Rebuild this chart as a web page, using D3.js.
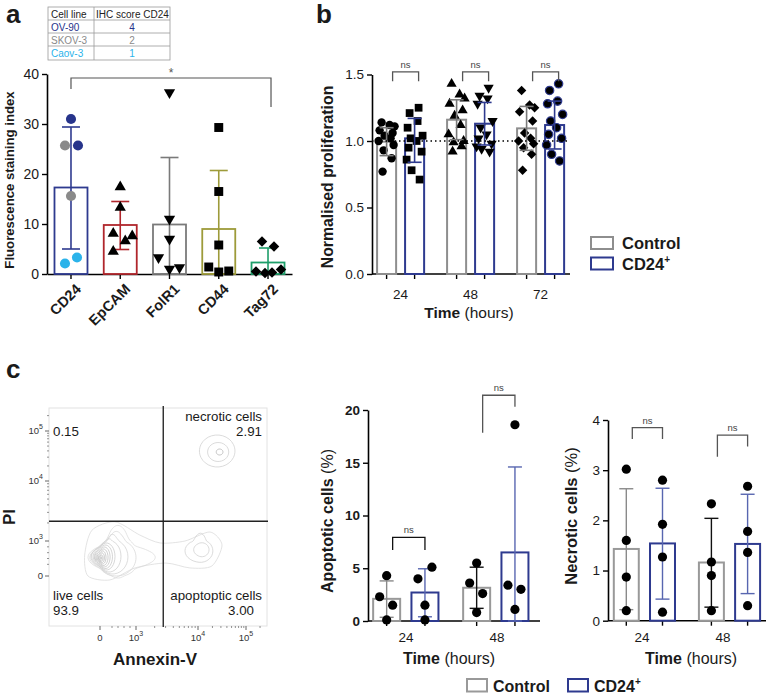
<!DOCTYPE html>
<html><head><meta charset="utf-8">
<script src="https://cdn.jsdelivr.net/npm/d3@7"></script>
<style>body{margin:0;background:#fff}svg{display:block}</style>
</head><body>
<svg id="fig" width="766" height="694"></svg>
<script>
// ================= DATA =================
// Panel a
const tableRows = [["Cell line","IHC score CD24"],["OV-90","4"],["SKOV-3","2"],["Caov-3","1"]];
const aCategories = ["CD24","EpCAM","FolR1","CD44","Tag72"];
const aMeans = [17.3, 9.8, 9.9, 9.0, 2.3];
const aErrUpper = [29.4, 14.5, 23.3, 20.7, 5.2];
const aErrLower = [5.0, 4.9, 0, 0, 0];
const aPoints = [
  [31.0, 25.7, 25.7, 15.6, 2.1, 3.3],
  [17.4, 13.3, 8.1, 7.6, 6.6, 4.5],
  [36.3, 11.0, 7.0, 3.3, 1.0, 1.3],
  [29.3, 16.5, 5.8, 1.4, 0.4, 0.6],
  [6.5, 5.5, 0.5, 0.2, 0.3, 0.9]
];
const aCD24CellLines = ["OV-90","OV-90","SKOV-3","SKOV-3","Caov-3","Caov-3"];
const aTicks = [0, 10, 20, 30, 40];
const aSig = {from: "CD24", to: "Tag72", top: 39.2, leftEnd: 37.0, rightEnd: 33.4, label: "*"};

// Panel b
const bTimes = ["24", "48", "72"];
const bGroups = ["Control", "CD24+"];
const bCtrlMean = [0.995, 1.16, 1.095];
const bCtrlUpper = [1.10, 1.31, 1.26];
const bCtrlLower = [0.89, 1.01, 0.93];
const bCdMean = [1.02, 1.13, 1.12];
const bCdUpper = [1.17, 1.29, 1.30];
const bCdLower = [0.84, 0.97, 0.94];
const bCtrlPoints = [
  [1.14, 1.12, 1.11, 1.08, 1.06, 1.04, 1.02, 1.0, 0.97, 0.93, 0.87, 0.77],
  [1.43, 1.35, 1.32, 1.28, 1.23, 1.19, 1.12, 1.05, 1.0, 0.99, 0.96, 0.92],
  [1.38, 1.27, 1.25, 1.22, 1.15, 1.06, 1.02, 1.0, 0.98, 0.95, 0.90, 0.78]
];
const bCdPoints = [
  [1.25, 1.21, 1.15, 1.10, 1.04, 1.02, 1.0, 0.95, 0.92, 0.86, 0.78, 0.71],
  [1.40, 1.34, 1.32, 1.28, 1.15, 1.10, 1.05, 1.02, 0.98, 0.96, 0.94, 0.92],
  [1.43, 1.38, 1.30, 1.28, 1.20, 1.15, 1.10, 1.05, 1.02, 0.97, 0.90, 0.85]
];
const bTicks = [0, 0.5, 1.0, 1.5];
const bSig = {top: 1.52, end: 1.45, label: "ns"};

// Panel c – flow cytometry (values in display decades; 0 = zero)
const flowQuadrants = {x: 3.44, y: 3.33};
const flowQuadLabels = [
  {name: "", value: "0.15", q: "tl"},
  {name: "necrotic cells", value: "2.91", q: "tr"},
  {name: "live cells", value: "93.9", q: "bl"},
  {name: "apoptoptic cells", value: "3.00", q: "br"}
];
const flowTicks = [{v: 0, base: "0", exp: ""}, {v: 3, base: "10", exp: "3"}, {v: 4, base: "10", exp: "4"}, {v: 5, base: "10", exp: "5"}];
const liveRings = [
  [0.08, 1.54, 0.06, 0.12], [0.11, 1.54, 0.14, 0.26], [0.16, 1.57, 0.21, 0.41], [0.21, 1.59, 0.29, 0.56],
  [0.28, 1.61, 0.39, 0.71], [0.35, 1.63, 0.49, 0.86], [0.44, 1.65, 0.60, 1.01],
  [0.53, 1.67, 0.72, 1.16], [0.76, 1.69, 0.99, 1.35], [1.04, 1.64, 1.29, 1.47],
  [1.36, 1.58, 1.64, 1.58], [1.49, 1.60, 1.82, 1.66]
];
const bridgeContour = [[-0.22,3.18],[1.25,3.32],[3.06,3.10],[3.39,2.83],[3.79,3.0],[4.25,3.15],[4.5,2.66],[4.29,0.86],[3.87,0.69],[3.48,1.11],[2.92,0.69],[0.83,-0.11],[-0.33,0.0],[-0.42,1.8]];
const apoRings = [[4.05, 2.15, 0.26, 0.98], [4.08, 2.25, 0.15, 0.6]];
const necRings = [[4.40, 4.60, 0.37, 0.32], [4.42, 4.58, 0.22, 0.19], [4.45, 4.58, 0.07, 0.06]];

// Panel c – apoptotic / necrotic bars
const cTimes = ["24", "48"];
const apoCtrlMean = [2.1, 3.15], apoCtrlUpper = [3.8, 5.1], apoCtrlLower = [0.35, 1.2];
const apoCdMean = [2.7, 6.5], apoCdUpper = [4.95, 14.6], apoCdLower = [0.4, 0];
const apoCtrlPoints = [[4.3, 2.3, 1.5, 0.1], [5.5, 3.6, 2.6, 0.8]];
const apoCdPoints = [[5.1, 4.0, 1.5, 0.1], [18.6, 3.4, 3.0, 1.1]];
const apoTicks = [0, 5, 10, 15, 20];
const apoSig = [{top: 7.93, leftEnd: 6.73, rightEnd: 6.73}, {top: 21.4, leftEnd: 17.85, rightEnd: 20.3}];

const necCtrlMean = [1.43, 1.16], necCtrlUpper = [2.63, 2.04], necCtrlLower = [0.22, 0.27];
const necCdMean = [1.54, 1.53], necCdUpper = [2.64, 2.52], necCdLower = [0.43, 0.54];
const necCtrlPoints = [[3.02, 1.6, 0.87, 0.2], [2.33, 1.17, 0.9, 0.2]];
const necCdPoints = [[2.8, 1.92, 1.27, 0.17], [2.68, 1.78, 1.36, 0.3]];
const necTicks = [0, 1, 2, 3, 4];
const necSig = [{top: 3.85, leftEnd: 3.62, rightEnd: 3.62}, {top: 3.70, leftEnd: 3.27, rightEnd: 3.47}];

// ================= STYLE / LAYOUT =================
const FONT = '"Liberation Sans", Arial, Helvetica, sans-serif';
const GREY = "#8e8e8e", BLUE = "#2e3a8f", BLUE_LIGHT = "#5866b0";
const aColors = ["#2e3a8f", "#b0262c", "#7a7a7a", "#9d9b3a", "#1e9e6a"];
const aCellColors = {"OV-90": "#27348b", "SKOV-3": "#8a8a8a", "Caov-3": "#2bb3ea"};
const aJitter = [[0, 7, -6, 0, -6, 6], [0, 0, -7, 12, 5, -7], [0, 0, 0, -11, 0, 10], [0, 0, 0, -10, 0, 10], [-6, 6, -12, -3, 4, 13]];
const bJitter = [-5, 3, 8, -7, 6, -2, 4, -8, 7, -3, 5, -4];
const cJitter = [[0, -7, 6, 0], [7, -7, 0, 0]];

const svg = d3.select("#fig").attr("font-family", FONT);

function symPath(kind, size) {
  if (kind === "circle") return d3.symbol(d3.symbolCircle, size)();
  if (kind === "square") return d3.symbol(d3.symbolSquare, size)();
  if (kind === "up" || kind === "down") return d3.symbol(d3.symbolTriangle, size)();
  if (kind === "diamond") return d3.symbol(d3.symbolSquare, size)();
}
function symRot(kind) { return kind === "down" ? " rotate(180)" : kind === "diamond" ? " rotate(45)" : ""; }

function styleAxis(sel, fs, bold) {
  sel.select(".domain").attr("stroke", "#000").attr("stroke-width", 1.6);
  sel.selectAll(".tick line").attr("stroke", "#000").attr("stroke-width", 1.4);
  sel.selectAll("text").attr("font-size", fs).attr("font-family", FONT).attr("fill", "#1a1a1a")
     .attr("font-weight", bold ? "bold" : "normal");
}
function errBar(g, x, yTop, yBot, cap, color, w) {
  g.append("line").attr("x1", x).attr("x2", x).attr("y1", yTop).attr("y2", yBot).attr("stroke", color).attr("stroke-width", w);
  g.append("line").attr("x1", x - cap/2).attr("x2", x + cap/2).attr("y1", yTop).attr("y2", yTop).attr("stroke", color).attr("stroke-width", w);
  g.append("line").attr("x1", x - cap/2).attr("x2", x + cap/2).attr("y1", yBot).attr("y2", yBot).attr("stroke", color).attr("stroke-width", w);
}
function bracket(g, x1, x2, yTop, y1, y2, color, label, fs) {
  g.append("path").attr("d", `M${x1},${y1}V${yTop}H${x2}V${y2}`).attr("fill", "none").attr("stroke", color).attr("stroke-width", 1.3);
  g.append("text").attr("x", (x1 + x2) / 2).attr("y", yTop - 4).attr("text-anchor", "middle")
    .attr("font-size", fs).attr("fill", "#444").text(label);
}
function panelLabel(t, x, y) {
  svg.append("text").attr("x", x).attr("y", y).attr("font-size", 26).attr("font-weight", "bold").attr("fill", "#1a1a1a").text(t);
}
function timeLabel(g, x, y, fs) {
  const t = g.append("text").attr("x", x).attr("y", y).attr("text-anchor", "middle").attr("font-size", fs).attr("fill", "#1a1a1a");
  t.append("tspan").attr("font-weight", "bold").text("Time");
  t.append("tspan").text(" (hours)");
}
function rotLabel(g, x, y, boldPart, normPart, fs) {
  const t = g.append("text").attr("transform", `translate(${x},${y}) rotate(-90)`).attr("text-anchor", "middle")
    .attr("font-size", fs).attr("fill", "#1a1a1a");
  t.append("tspan").attr("font-weight", "bold").text(boldPart);
  if (normPart) t.append("tspan").text(normPart);
}

// ================= PANEL A =================
panelLabel("a", 6, 23);
const gA = svg.append("g");
// table
const tX0 = 48, tX1 = 94, tX2 = 170, tRowY = [7, 20, 33, 46, 60];
gA.append("rect").attr("x", tX0).attr("y", tRowY[0]).attr("width", tX2 - tX0).attr("height", tRowY[4] - tRowY[0])
  .attr("fill", "none").attr("stroke", "#9a9a9a").attr("stroke-width", 0.8);
gA.append("line").attr("x1", tX1).attr("x2", tX1).attr("y1", tRowY[0]).attr("y2", tRowY[4]).attr("stroke", "#9a9a9a").attr("stroke-width", 0.8);
tRowY.slice(1, 4).forEach(y => gA.append("line").attr("x1", tX0).attr("x2", tX2).attr("y1", y).attr("y2", y).attr("stroke", "#9a9a9a").attr("stroke-width", 0.8));
tableRows.forEach((r, i) => {
  const col = i === 0 ? "#222" : aCellColors[r[0]];
  const y = tRowY[i] + 10.5;
  gA.append("text").attr("x", tX0 + 3).attr("y", y).attr("font-size", 10).attr("fill", col).text(r[0]);
  gA.append("text").attr("x", i === 0 ? tX1 + 2 : (tX1 + tX2) / 2).attr("y", y).attr("text-anchor", i === 0 ? "start" : "middle")
    .attr("font-size", 10).attr("fill", col).text(r[1]);
});

const aX = d3.scaleBand().domain(aCategories).range([47, 292]).paddingInner(0.33).paddingOuter(0.152);
const aY = d3.scaleLinear().domain([0, 40]).range([274, 74]);
const aC = c => aX(c) + aX.bandwidth() / 2;
const aShapes = ["circle", "up", "down", "square", "diamond"];
const aSizes = {circle: 80, up: 55, down: 55, square: 80, diamond: 55};

gA.append("g").attr("transform", "translate(47,0)")
  .call(d3.axisLeft(aY).tickValues(aTicks).tickSize(5).tickSizeOuter(0).tickPadding(3))
  .call(s => styleAxis(s, 14, false));
gA.append("g").attr("transform", "translate(0,274)")
  .call(d3.axisBottom(aX).tickSize(5).tickSizeOuter(0).tickFormat(""))
  .call(s => styleAxis(s, 12, true));

aCategories.forEach((c, i) => {
  const cx = aC(c), bw = aX.bandwidth();
  gA.append("rect").attr("x", cx - bw / 2).attr("y", aY(aMeans[i])).attr("width", bw).attr("height", aY(0) - aY(aMeans[i]))
    .attr("fill", "none").attr("stroke", aColors[i]).attr("stroke-width", 1.8);
  errBar(gA, cx, aY(aErrUpper[i]), aY(aErrLower[i]), 18, aColors[i], 1.6);
  aPoints[i].forEach((v, j) => {
    const kind = aShapes[i];
    const fill = i === 0 ? aCellColors[aCD24CellLines[j]] : "#000";
    gA.append("path").attr("d", symPath(kind, aSizes[kind]))
      .attr("transform", `translate(${cx + aJitter[i][j]},${aY(v)})` + symRot(kind)).attr("fill", fill);
  });
  gA.append("text").attr("transform", `translate(${cx + 11},${290}) rotate(-45)`).attr("text-anchor", "end")
    .attr("font-size", 14.5).attr("font-weight", "bold").attr("fill", "#1a1a1a").text(c);
});
// significance
{
  const x1 = aC(aSig.from), x2 = aC(aSig.to) + 3;
  gA.append("path").attr("d", `M${x1},${aY(aSig.leftEnd)}V${aY(aSig.top)}H${x2}V${aY(aSig.rightEnd)}`)
    .attr("fill", "none").attr("stroke", "#555").attr("stroke-width", 1.2);
  gA.append("text").attr("x", (x1 + x2) / 2).attr("y", aY(aSig.top) - 1).attr("text-anchor", "middle")
    .attr("font-size", 12).attr("fill", "#555").text(aSig.label);
}
rotLabel(gA, 14, 180, "Fluorescence staining index", "", 13.2);

// ================= PANEL B =================
panelLabel("b", 316, 23);
const gB = svg.append("g");
const bX = d3.scalePoint().domain(bTimes).range([400.6, 540.6]);
const bSub = d3.scaleBand().domain(bGroups).range([-28, 28]).paddingInner(0.32).paddingOuter(0.16);
const bY = d3.scaleLinear().domain([0, 1.5]).range([274, 74.5]);
const bBW = bSub.bandwidth();
const bPos = (t, g) => bX(t) + bSub(g) + bBW / 2;

gB.append("g").attr("transform", "translate(372,0)")
  .call(d3.axisLeft(bY).tickValues(bTicks).tickFormat(d3.format(".1f")).tickSize(5).tickSizeOuter(0).tickPadding(3))
  .call(s => styleAxis(s, 13.5, false));
gB.append("line").attr("x1", 372).attr("x2", 570).attr("y1", 274).attr("y2", 274).attr("stroke", "#000").attr("stroke-width", 1.6);

const bData = [
  {g: "Control", mean: bCtrlMean, up: bCtrlUpper, lo: bCtrlLower, pts: bCtrlPoints, color: GREY},
  {g: "CD24+", mean: bCdMean, up: bCdUpper, lo: bCdLower, pts: bCdPoints, color: BLUE}
];
const bShapes = {Control: ["circle", "up", "diamond"], "CD24+": ["square", "down", "circle"]};
const bSizes = {circle: 55, up: 45, down: 45, square: 60, diamond: 45};
bTimes.forEach((t, ti) => {
  bData.forEach(d => {
    const cx = bPos(t, d.g);
    gB.append("line").attr("x1", cx).attr("x2", cx).attr("y1", 274).attr("y2", 279).attr("stroke", "#000").attr("stroke-width", 1.4);
    gB.append("rect").attr("x", cx - bBW / 2).attr("y", bY(d.mean[ti])).attr("width", bBW).attr("height", bY(0) - bY(d.mean[ti]))
      .attr("fill", "none").attr("stroke", d.color).attr("stroke-width", 2);
  });
  bData.forEach(d => {
    const cx = bPos(t, d.g);
    const kind = bShapes[d.g][ti];
    d.pts[ti].forEach((v, j) => {
      const jit = d.g === "Control" ? bJitter[j] : -bJitter[11 - j];
      const p = gB.append("path").attr("d", symPath(kind, bSizes[kind]))
        .attr("transform", `translate(${cx + jit},${bY(v)})` + symRot(kind)).attr("fill", "#000");
      if (d.g === "CD24+" && kind === "circle") p.attr("stroke", BLUE).attr("stroke-width", 1.2);
    });
    errBar(gB, cx, bY(d.up[ti]), bY(d.lo[ti]), 14, d.g === "Control" ? "#7a7a7a" : BLUE, 1.6);
  });
  gB.append("text").attr("x", bX(t)).attr("y", 299).attr("text-anchor", "middle").attr("font-size", 13.5).attr("fill", "#1a1a1a").text(t);
  const x1 = bPos(t, "Control") + 6, x2 = bPos(t, "CD24+") + 4;
  bracket(gB, x1, x2, bY(bSig.top), bY(bSig.end), bY(bSig.end), "#555", bSig.label, 9.5);
});
gB.append("line").attr("x1", 372).attr("x2", 570).attr("y1", bY(1)).attr("y2", bY(1))
  .attr("stroke", "#000").attr("stroke-width", 1.5).attr("stroke-dasharray", "1.5,3");
rotLabel(gB, 333, 177, "Normalised proliferation", "", 15.8);
timeLabel(gB, 469, 318, 15.5);
// legend b
[["Control", GREY], ["CD24+", BLUE]].forEach((l, i) => {
  const y = 237 + i * 20.5;
  gB.append("rect").attr("x", 591).attr("y", y).attr("width", 22).attr("height", 12).attr("fill", "none").attr("stroke", l[1]).attr("stroke-width", 2);
  const t = gB.append("text").attr("x", 622).attr("y", y + 12).attr("font-size", 16.5).attr("font-weight", "bold").attr("fill", "#1a1a1a");
  if (l[0] === "CD24+") { t.append("tspan").text("CD24"); t.append("tspan").attr("font-size", 10).attr("dy", -7).text("+"); }
  else t.text(l[0]);
});

// ================= PANEL C: FLOW =================
panelLabel("c", 6, 378);
const gF = svg.append("g");
const fX = d3.scaleLinear().domain([-1.4, 0, 3, 4, 5, 5.45]).range([49, 100, 136, 198, 246, 267]);
const fY = d3.scaleLinear().domain([-1.4, 0, 3, 4, 5, 5.45]).range([626, 576, 541, 481, 431, 408]);
gF.append("rect").attr("x", 49).attr("y", 408).attr("width", 218).attr("height", 218).attr("fill", "none").attr("stroke", "#e2e2e2").attr("stroke-width", 1);
const ringLine = d3.line().curve(d3.curveCardinalClosed);
const ring = ([cx, cy, rx, ry]) => ringLine(d3.range(0, 360, 12).map(a => {
  const t = a * Math.PI / 180; return [fX(cx + rx * Math.cos(t)), fY(cy + ry * Math.sin(t))];
}));
gF.append("path").attr("d", d3.line().curve(d3.curveCardinalClosed.tension(0.2))(bridgeContour.map(p => [fX(p[0]), fY(p[1])])))
  .attr("fill", "none").attr("stroke", "#dcdcdc").attr("stroke-width", 0.8);
const ringCol = d3.interpolateRgb("#a9a9a9", "#d8d8d8");
liveRings.forEach((r, i) => gF.append("path").attr("d", ring(r)).attr("fill", "none").attr("stroke", ringCol(i / (liveRings.length - 1))).attr("stroke-width", 0.7));
apoRings.forEach(r => gF.append("path").attr("d", ring(r)).attr("fill", "none").attr("stroke", "#d2d2d2").attr("stroke-width", 0.8));
necRings.forEach((r, i) => gF.append("path").attr("d", ring(r)).attr("fill", "none").attr("stroke", i === 2 ? "#b5b5b5" : "#d2d2d2").attr("stroke-width", 0.8));
// quadrant lines
gF.append("line").attr("x1", fX(flowQuadrants.x)).attr("x2", fX(flowQuadrants.x)).attr("y1", 406).attr("y2", 627).attr("stroke", "#333").attr("stroke-width", 1.5);
gF.append("line").attr("x1", 49).attr("x2", 268).attr("y1", fY(flowQuadrants.y)).attr("y2", fY(flowQuadrants.y)).attr("stroke", "#222").attr("stroke-width", 1.5);
// ticks
const minorVals = [];
[3, 4].forEach(k => d3.range(2, 10).forEach(m => minorVals.push(k + Math.log10(m))));
[1, 1.5, 2, 2.5, 5.301].forEach(v => minorVals.push(v));
minorVals.forEach(v => {
  gF.append("line").attr("x1", fX(v)).attr("x2", fX(v)).attr("y1", 626).attr("y2", 628).attr("stroke", "#777").attr("stroke-width", 0.8);
  gF.append("line").attr("x1", 47).attr("x2", 49).attr("y1", fY(v)).attr("y2", fY(v)).attr("stroke", "#777").attr("stroke-width", 0.8);
});
flowTicks.forEach(tk => {
  gF.append("line").attr("x1", fX(tk.v)).attr("x2", fX(tk.v)).attr("y1", 626).attr("y2", 630).attr("stroke", "#555").attr("stroke-width", 0.9);
  gF.append("line").attr("x1", 45).attr("x2", 49).attr("y1", fY(tk.v)).attr("y2", fY(tk.v)).attr("stroke", "#555").attr("stroke-width", 0.9);
  const tx = gF.append("text").attr("x", fX(tk.v)).attr("y", 641).attr("text-anchor", "middle").attr("font-size", 9.5).attr("fill", "#333");
  tx.append("tspan").text(tk.base);
  if (tk.exp) tx.append("tspan").attr("font-size", 7).attr("dy", -5).text(tk.exp);
  const ty = gF.append("text").attr("x", 43).attr("y", fY(tk.v) + 3).attr("text-anchor", "end").attr("font-size", 9.5).attr("fill", "#333");
  ty.append("tspan").text(tk.base);
  if (tk.exp) ty.append("tspan").attr("font-size", 7).attr("dy", -5).text(tk.exp);
});
flowQuadLabels.forEach(q => {
  const right = q.q[1] === "r", top = q.q[0] === "t";
  const x = right ? 262 : 53, y1 = top ? 421 : 600;
  const anchor = right ? "end" : "start";
  if (q.name) gF.append("text").attr("x", x).attr("y", y1).attr("text-anchor", anchor).attr("font-size", 13.3).attr("fill", "#1a1a1a").text(q.name);
  gF.append("text").attr("x", q.q === "br" ? 254 : x).attr("y", y1 + 15).attr("text-anchor", anchor).attr("font-size", 13.3).attr("fill", "#1a1a1a").text(q.value);
});
gF.append("text").attr("transform", "translate(15,517) rotate(-90)").attr("text-anchor", "middle").attr("font-size", 17).attr("font-weight", "bold").attr("fill", "#1a1a1a").text("PI");
gF.append("text").attr("x", 155).attr("y", 665).attr("text-anchor", "middle").attr("font-size", 17).attr("font-weight", "bold").attr("fill", "#1a1a1a").text("Annexin-V");

// ================= PANEL C: BAR CHARTS =================
function smallBarChart(cfg) {
  const g = svg.append("g");
  const y = d3.scaleLinear().domain(cfg.domain).range([cfg.y0, cfg.y1]);
  const x = d3.scalePoint().domain(cTimes).range(cfg.centers);
  const sub = d3.scaleBand().domain(bGroups).range([-cfg.half, cfg.half]).paddingInner(cfg.pi).paddingOuter(cfg.pi / 2);
  const bw = sub.bandwidth();
  const pos = (t, gname) => x(t) + sub(gname) + bw / 2;
  g.append("g").attr("transform", `translate(${cfg.axisX},0)`)
    .call(d3.axisLeft(y).tickValues(cfg.ticks).tickFormat(d3.format("d")).tickSize(5).tickSizeOuter(0).tickPadding(3))
    .call(s => styleAxis(s, 13.5, cfg.boldTicks));
  g.append("line").attr("x1", cfg.axisX).attr("x2", cfg.axisEnd).attr("y1", cfg.y0).attr("y2", cfg.y0).attr("stroke", "#000").attr("stroke-width", 1.6);
  const sets = [
    {g: "Control", mean: cfg.ctrlMean, up: cfg.ctrlUp, lo: cfg.ctrlLo, pts: cfg.ctrlPts, color: "#999", err: ["#8a8a8a", "#111"]},
    {g: "CD24+", mean: cfg.cdMean, up: cfg.cdUp, lo: cfg.cdLo, pts: cfg.cdPts, color: BLUE, err: [BLUE_LIGHT, BLUE_LIGHT]}
  ];
  cTimes.forEach((t, ti) => {
    sets.forEach((d, di) => {
      const cx = pos(t, d.g);
      g.append("line").attr("x1", cx).attr("x2", cx).attr("y1", cfg.y0).attr("y2", cfg.y0 + 5).attr("stroke", "#000").attr("stroke-width", 1.4);
      g.append("rect").attr("x", cx - bw / 2).attr("y", y(d.mean[ti])).attr("width", bw).attr("height", y(0) - y(d.mean[ti]))
        .attr("fill", "none").attr("stroke", d.color).attr("stroke-width", 2);
      errBar(g, cx, y(d.up[ti]), y(d.lo[ti]), 14, d.err[ti], 1.4);
      d.pts[ti].forEach((v, j) => {
        const jit = cfg.jitter ? (di === 0 ? cJitter[0][j] : (ti === 0 ? cJitter[1][j] : cJitter[0][j])) : 0;
        g.append("circle").attr("cx", cx + jit).attr("cy", y(v)).attr("r", 4.6).attr("fill", "#000");
      });
    });
    g.append("text").attr("x", cfg.labelX[ti]).attr("y", 642).attr("text-anchor", "middle").attr("font-size", 13.5).attr("fill", "#1a1a1a").text(t);
    const s = cfg.sig[ti];
    bracket(g, pos(t, "Control") + 6, pos(t, "CD24+"), y(s.top), y(s.leftEnd), y(s.rightEnd), ti === 0 && cfg.firstBlack ? "#111" : "#555", "ns", 9.5);
  });
  rotLabel(g, cfg.ylabX, cfg.ylabY, cfg.ylab, " (%)", cfg.ylabSize);
  timeLabel(g, cfg.timeX, 664, 16);
}
smallBarChart({
  domain: [0, 20], y0: 621, y1: 410, centers: [405.8, 495.8], half: 38.3, pi: 0.295, axisX: 368, axisEnd: 540,
  ticks: apoTicks, boldTicks: true, ctrlMean: apoCtrlMean, ctrlUp: apoCtrlUpper, ctrlLo: apoCtrlLower, ctrlPts: apoCtrlPoints,
  cdMean: apoCdMean, cdUp: apoCdUpper, cdLo: apoCdLower, cdPts: apoCdPoints, jitter: true, labelX: [406, 497],
  sig: apoSig, firstBlack: true, ylab: "Apoptotic cells", ylabX: 333, ylabY: 521, timeX: 449, ylabSize: 16
});
smallBarChart({
  domain: [0, 4], y0: 620.7, y1: 420, centers: [644.4, 729.5], half: 36.2, pi: 0.31, axisX: 608, axisEnd: 766,
  ticks: necTicks, boldTicks: false, ctrlMean: necCtrlMean, ctrlUp: necCtrlUpper, ctrlLo: necCtrlLower, ctrlPts: necCtrlPoints,
  cdMean: necCdMean, cdUp: necCdUpper, cdLo: necCdLower, cdPts: necCdPoints, jitter: false, labelX: [642, 723],
  sig: necSig, firstBlack: false, ylab: "Necrotic cells", ylabX: 577, ylabY: 516, timeX: 691, ylabSize: 16.5
});
// bottom legend
[["Control", "#999", 467, 493], ["CD24+", BLUE, 568, 594]].forEach(l => {
  svg.append("rect").attr("x", l[2]).attr("y", 679).attr("width", 20).attr("height", 12.5).attr("fill", "none").attr("stroke", l[1]).attr("stroke-width", 2);
  const t = svg.append("text").attr("x", l[3]).attr("y", 692).attr("font-size", 16).attr("font-weight", "bold").attr("fill", "#1a1a1a");
  if (l[0] === "CD24+") { t.append("tspan").text("CD24"); t.append("tspan").attr("font-size", 10).attr("dy", -7).text("+"); }
  else t.text(l[0]);
});
</script>
</body></html>
